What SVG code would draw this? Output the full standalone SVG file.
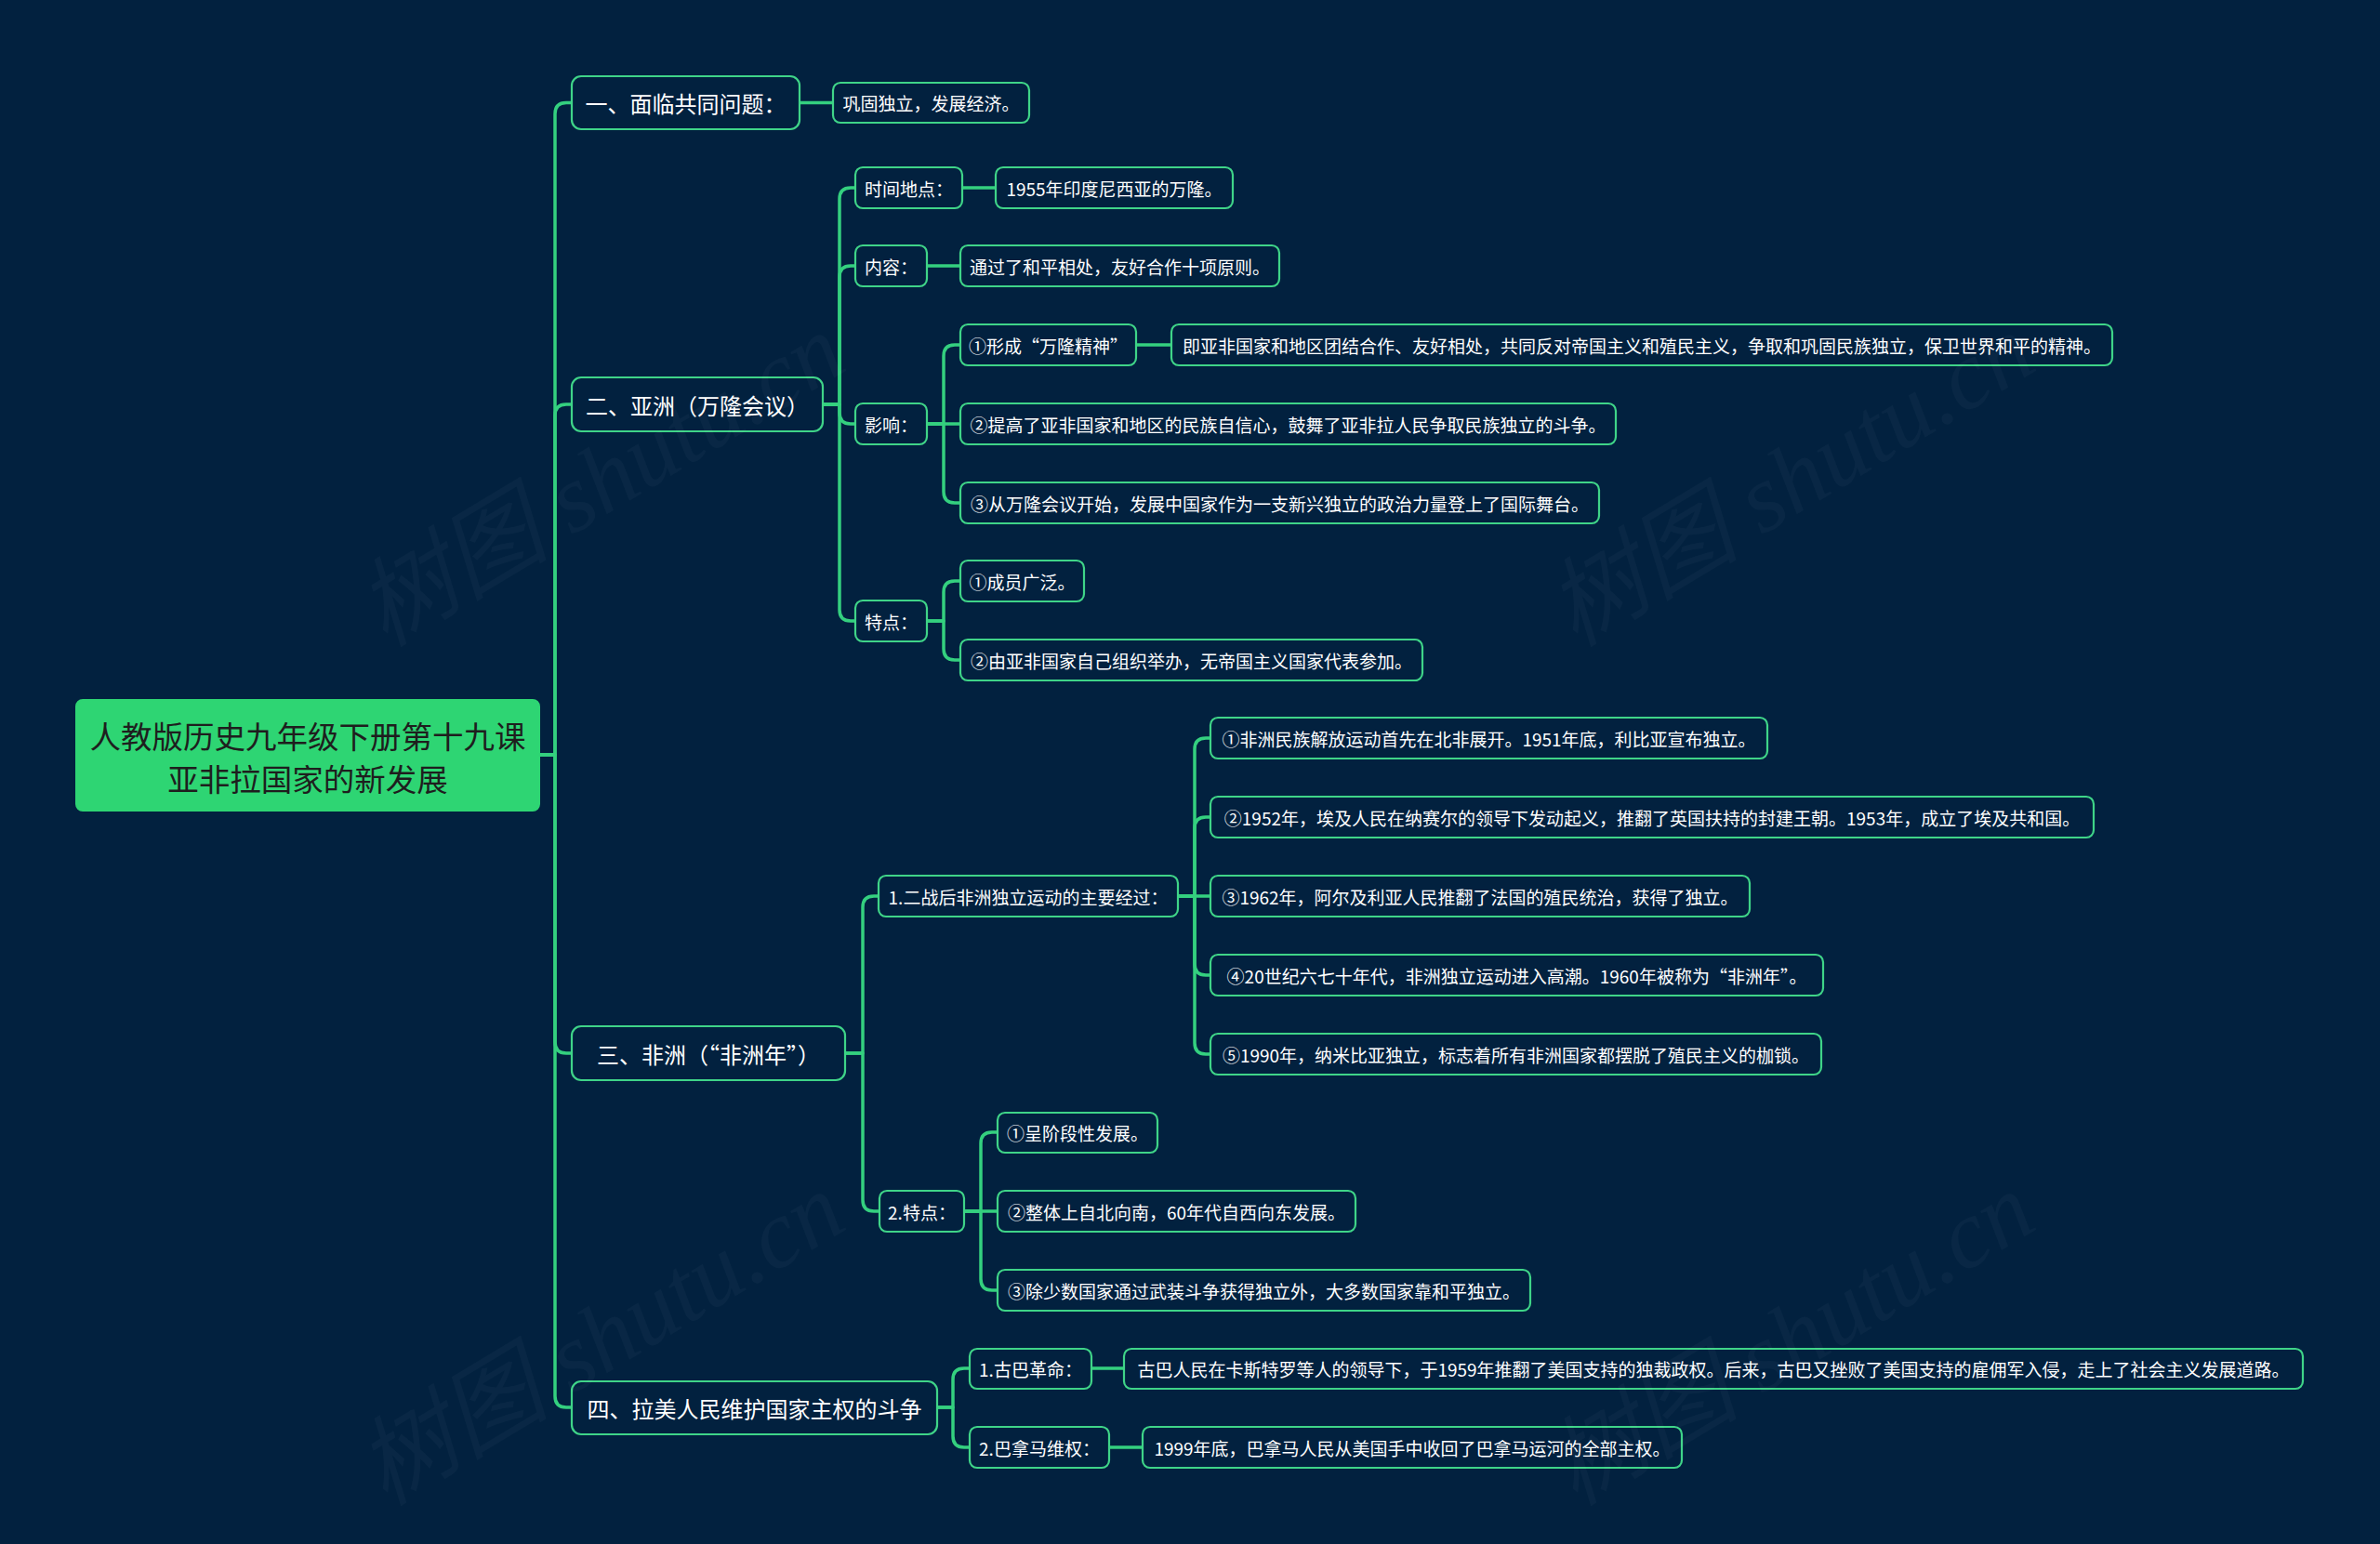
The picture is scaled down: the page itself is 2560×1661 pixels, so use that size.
<svg xmlns="http://www.w3.org/2000/svg" width="2560" height="1661" viewBox="0 0 2560 1661">
<style>
.bg{fill:#02213f}
.wm{fill:#ffffff;fill-opacity:0.03;font-family:"Liberation Serif","Noto Sans CJK SC",serif;font-size:104px;font-style:italic}
.root rect{fill:#2ed573;stroke:#2ed573;stroke-width:2}
.root text{fill:#1e1e1e;font-family:"Noto Sans CJK SC","Noto Sans",sans-serif;font-size:33.5px;text-anchor:middle;dominant-baseline:central}
.n1 rect{fill:#02213f;stroke:#3fd488;stroke-width:2.2}
.n1 text{fill:#ffffff;font-family:"Noto Sans CJK SC","Noto Sans",sans-serif;font-size:24px;text-anchor:middle;dominant-baseline:central}
.n2 rect{fill:#02213f;stroke:#3fd488;stroke-width:2.2}
.n2 text{fill:#ffffff;font-family:"Noto Sans CJK SC","Noto Sans",sans-serif;font-size:19px;text-anchor:middle;dominant-baseline:central}
#connectors path{fill:none;stroke:#34d07f;stroke-width:3.5;stroke-linejoin:round}
</style>
<rect class="bg" x="0" y="0" width="2560" height="1661"/>

<g id="connectors">
<path d="M580,812 H597 V122.5 Q597,110.5 609,110.5 H615"/>
<path d="M580,812 H597 V447 Q597,435 609,435 H615"/>
<path d="M580,812 H597 V1121 Q597,1133 609,1133 H615"/>
<path d="M580,812 H597 V1502 Q597,1514 609,1514 H615"/>
<path d="M860,110.5 H896"/>
<path d="M885,435 H903 V214 Q903,202 915,202 H920"/>
<path d="M885,435 H903 V298 Q903,286 915,286 H920"/>
<path d="M885,435 H903 V444 Q903,456 915,456 H920"/>
<path d="M885,435 H903 V656 Q903,668 915,668 H920"/>
<path d="M1035,202 H1071"/>
<path d="M997,286 H1033"/>
<path d="M997,456 H1015 V383 Q1015,371 1027,371 H1033"/>
<path d="M997,456 H1033"/>
<path d="M997,456 H1015 V529 Q1015,541 1027,541 H1033"/>
<path d="M1222,371 H1260"/>
<path d="M997,668 H1015 V637 Q1015,625 1027,625 H1033"/>
<path d="M997,668 H1015 V698 Q1015,710 1027,710 H1033"/>
<path d="M909,1133 H928 V976 Q928,964 940,964 H945"/>
<path d="M909,1133 H928 V1291 Q928,1303 940,1303 H946"/>
<path d="M1267,964 H1285 V806 Q1285,794 1297,794 H1302"/>
<path d="M1267,964 H1285 V891 Q1285,879 1297,879 H1302"/>
<path d="M1267,964 H1302"/>
<path d="M1267,964 H1285 V1037 Q1285,1049 1297,1049 H1302"/>
<path d="M1267,964 H1285 V1122 Q1285,1134 1297,1134 H1302"/>
<path d="M1037,1303 H1055 V1230 Q1055,1218 1067,1218 H1073"/>
<path d="M1037,1303 H1073"/>
<path d="M1037,1303 H1055 V1376 Q1055,1388 1067,1388 H1073"/>
<path d="M1008,1514 H1025 V1484 Q1025,1472 1037,1472 H1043"/>
<path d="M1008,1514 H1025 V1545 Q1025,1557 1037,1557 H1043"/>
<path d="M1174,1472 H1209"/>
<path d="M1193,1557 H1229"/>
</g>

<g id="root" class="root">
<rect x="82" y="753" width="498" height="119" rx="7"/>
<text x="331" y="790">人教版历史九年级下册第十九课</text>
<text x="331" y="836">亚非拉国家的新发展</text>
</g>

<g id="n1" class="n1"><rect x="615" y="82" width="245" height="57" rx="10"/><text x="737.5" y="110.5">一、面临共同问题：</text></g>
<g id="n2" class="n1"><rect x="615" y="406" width="270" height="58" rx="10"/><text x="750" y="435">二、亚洲（万隆会议）</text></g>
<g id="n3" class="n1"><rect x="615" y="1104" width="294" height="58" rx="10"/><text x="762" y="1133">三、非洲（“非洲年”）</text></g>
<g id="n4" class="n1"><rect x="615" y="1486" width="393" height="57" rx="10"/><text x="811.5" y="1514">四、拉美人民维护国家主权的斗争</text></g>

<g id="n1a" class="n2"><rect x="896" y="89" width="211" height="43" rx="8"/><text x="1001.5" y="110.5">巩固独立，发展经济。</text></g>

<g id="n2a" class="n2"><rect x="920" y="180" width="115" height="44" rx="8"/><text x="977.5" y="202">时间地点：</text></g>
<g id="n2a1" class="n2"><rect x="1071" y="180" width="255" height="44" rx="8"/><text x="1198.5" y="202">1955年印度尼西亚的万隆。</text></g>
<g id="n2b" class="n2"><rect x="920" y="264" width="77" height="44" rx="8"/><text x="958.5" y="286">内容：</text></g>
<g id="n2b1" class="n2"><rect x="1033" y="264" width="343" height="44" rx="8"/><text x="1204.5" y="286">通过了和平相处，友好合作十项原则。</text></g>
<g id="n2c" class="n2"><rect x="920" y="434" width="77" height="44" rx="8"/><text x="958.5" y="456">影响：</text></g>
<g id="n2c1" class="n2"><rect x="1033" y="349" width="189" height="44" rx="8"/><text x="1127.5" y="371">①形成“万隆精神”</text></g>
<g id="n2c1a" class="n2"><rect x="1260" y="349" width="1012" height="44" rx="8"/><text x="1766" y="371">即亚非国家和地区团结合作、友好相处，共同反对帝国主义和殖民主义，争取和巩固民族独立，保卫世界和平的精神。</text></g>
<g id="n2c2" class="n2"><rect x="1033" y="434" width="705" height="44" rx="8"/><text x="1385.5" y="456">②提高了亚非国家和地区的民族自信心，鼓舞了亚非拉人民争取民族独立的斗争。</text></g>
<g id="n2c3" class="n2"><rect x="1033" y="519" width="687" height="44" rx="8"/><text x="1376.5" y="541">③从万隆会议开始，发展中国家作为一支新兴独立的政治力量登上了国际舞台。</text></g>
<g id="n2d" class="n2"><rect x="920" y="646" width="77" height="44" rx="8"/><text x="958.5" y="668">特点：</text></g>
<g id="n2d1" class="n2"><rect x="1033" y="603" width="133" height="44" rx="8"/><text x="1099.5" y="625">①成员广泛。</text></g>
<g id="n2d2" class="n2"><rect x="1033" y="688" width="497" height="44" rx="8"/><text x="1281.5" y="710">②由亚非国家自己组织举办，无帝国主义国家代表参加。</text></g>

<g id="n3a" class="n2"><rect x="945" y="942" width="322" height="44" rx="8"/><text x="1106" y="964">1.二战后非洲独立运动的主要经过：</text></g>
<g id="n3a1" class="n2"><rect x="1302" y="772" width="599" height="44" rx="8"/><text x="1601.5" y="794">①非洲民族解放运动首先在北非展开。1951年底，利比亚宣布独立。</text></g>
<g id="n3a2" class="n2"><rect x="1302" y="857" width="950" height="44" rx="8"/><text x="1777" y="879">②1952年，埃及人民在纳赛尔的领导下发动起义，推翻了英国扶持的封建王朝。1953年，成立了埃及共和国。</text></g>
<g id="n3a3" class="n2"><rect x="1302" y="942" width="580" height="44" rx="8"/><text x="1592" y="964">③1962年，阿尔及利亚人民推翻了法国的殖民统治，获得了独立。</text></g>
<g id="n3a4" class="n2"><rect x="1302" y="1027" width="659" height="44" rx="8"/><text x="1631.5" y="1049">④20世纪六七十年代，非洲独立运动进入高潮。1960年被称为“非洲年”。</text></g>
<g id="n3a5" class="n2"><rect x="1302" y="1112" width="657" height="44" rx="8"/><text x="1630.5" y="1134">⑤1990年，纳米比亚独立，标志着所有非洲国家都摆脱了殖民主义的枷锁。</text></g>
<g id="n3b" class="n2"><rect x="946" y="1281" width="91" height="44" rx="8"/><text x="991.5" y="1303">2.特点：</text></g>
<g id="n3b1" class="n2"><rect x="1073" y="1197" width="172" height="43" rx="8"/><text x="1159" y="1218.5">①呈阶段性发展。</text></g>
<g id="n3b2" class="n2"><rect x="1073" y="1281" width="385" height="44" rx="8"/><text x="1265.5" y="1303">②整体上自北向南，60年代自西向东发展。</text></g>
<g id="n3b3" class="n2"><rect x="1073" y="1366" width="573" height="44" rx="8"/><text x="1359.5" y="1388">③除少数国家通过武装斗争获得独立外，大多数国家靠和平独立。</text></g>

<g id="n4a" class="n2"><rect x="1043" y="1451" width="131" height="43" rx="8"/><text x="1108.5" y="1472.5">1.古巴革命：</text></g>
<g id="n4a1" class="n2"><rect x="1209" y="1451" width="1268" height="43" rx="8"/><text x="1843" y="1472.5">古巴人民在卡斯特罗等人的领导下，于1959年推翻了美国支持的独裁政权。后来，古巴又挫败了美国支持的雇佣军入侵，走上了社会主义发展道路。</text></g>
<g id="n4b" class="n2"><rect x="1043" y="1535" width="150" height="44" rx="8"/><text x="1118" y="1557">2.巴拿马维权：</text></g>
<g id="n4b1" class="n2"><rect x="1229" y="1535" width="580" height="44" rx="8"/><text x="1519" y="1557">1999年底，巴拿马人民从美国手中收回了巴拿马运河的全部主权。</text></g>

<g id="watermark">
<text class="wm" x="646" y="516" text-anchor="middle" dominant-baseline="central" transform="rotate(-31 646 516)">树图 shutu.cn</text>
<text class="wm" x="1926" y="516" text-anchor="middle" dominant-baseline="central" transform="rotate(-31 1926 516)">树图 shutu.cn</text>
<text class="wm" x="646" y="1440" text-anchor="middle" dominant-baseline="central" transform="rotate(-31 646 1440)">树图 shutu.cn</text>
<text class="wm" x="1926" y="1440" text-anchor="middle" dominant-baseline="central" transform="rotate(-31 1926 1440)">树图 shutu.cn</text>
</g>
</svg>
